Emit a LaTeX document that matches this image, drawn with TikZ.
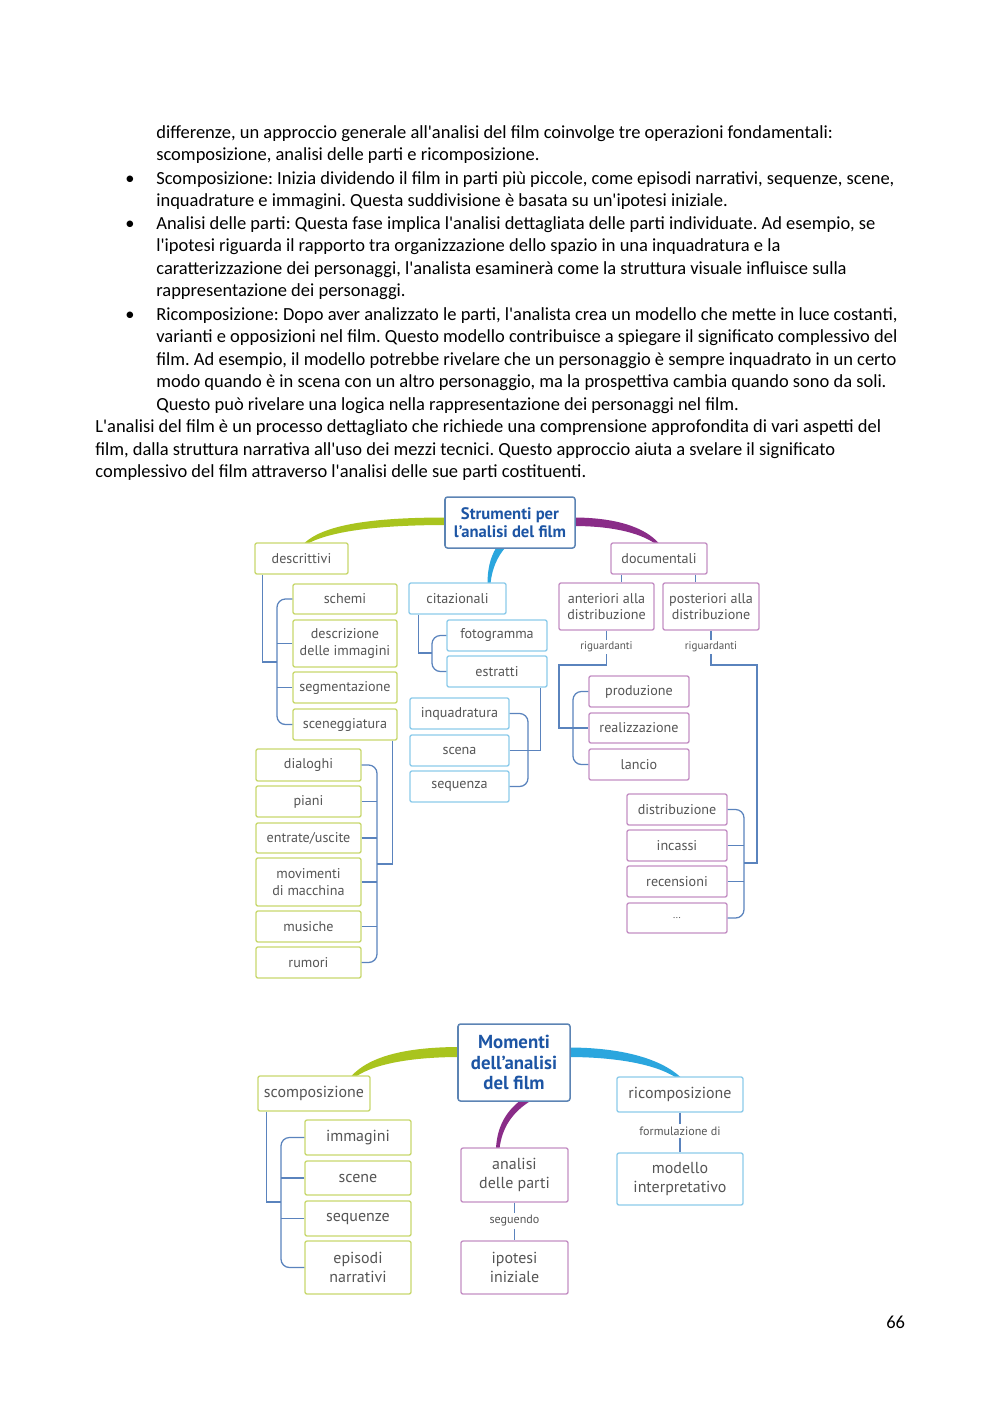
\documentclass[tikz,border=0pt]{standalone}
\usepackage{fontspec}
\newfontfamily\bodyfont{Carlito}
\newfontfamily\dfont{PT Sans}
\usetikzlibrary{calc}
\definecolor{gborder}{HTML}{C8D86E}
\definecolor{bborder}{HTML}{8DCBEA}
\definecolor{pborder}{HTML}{C48FC4}
\definecolor{tborder}{HTML}{5C84B4}
\definecolor{ttext}{HTML}{1D55A4}
\definecolor{conncol}{HTML}{5A83BD}
\definecolor{thg}{HTML}{A9C41E}
\definecolor{thb}{HTML}{2BA6DE}
\definecolor{thp}{HTML}{8A2C88}
\definecolor{boxtext}{HTML}{555555}
\pgfdeclarelayer{bg}
\pgfsetlayers{bg,main}
\begin{document}
\frenchspacing
\begin{tikzpicture}[x=0.595pt,y=-0.595pt,
  bodyline/.style={anchor=base west, inner sep=0pt, font=\bodyfont\frenchspacing\fontsize{11}{13.4}\selectfont},
  box/.style={draw, rounded corners=1.2pt, line width=0.8pt, fill=white, inner sep=0pt, align=center, text=boxtext, font=\dfont\fontsize{8.4}{9.8}\selectfont},
  boxb/.style={box, font=\dfont\fontsize{9.5}{11}\selectfont},
  gbox/.style={box, draw=gborder},
  bbox/.style={box, draw=bborder},
  pbox/.style={box, draw=pborder},
  gboxb/.style={boxb, draw=gborder},
  bboxb/.style={boxb, draw=bborder},
  pboxb/.style={boxb, draw=pborder},
  wh/.style 2 args={minimum width=#1*0.595pt, minimum height=#2*0.595pt},
  titlebox/.style={draw=tborder, line width=0.9pt, rounded corners=1.5pt, fill=white, align=center, text=ttext, inner sep=0pt},
  conn/.style={draw=conncol, line width=0.75pt},
  brk/.style={conn, rounded corners=5pt},
  lbl/.style={font=\dfont\fontsize{6.6}{7}\selectfont, text=boxtext, inner sep=1pt},
  lblb/.style={font=\dfont\fontsize{7.2}{7.6}\selectfont, text=boxtext, inner sep=1.4pt}
]
\useasboundingbox (0,0) rectangle (1000,1414);
\begin{pgfonlayer}{bg}
\fill[white] (0,0) rectangle (1000,1414);
\end{pgfonlayer}

% ---------- body text ----------
\node[bodyline] (t1) at (156,138) {differenze, un approccio generale all'analisi del film coinvolge tre operazioni fondamentali:};
\node[bodyline] (t2) at (156,160) {scomposizione, analisi delle parti e ricomposizione.};
\node[bodyline] (b1) at (125,184) {•};
\node[bodyline] (t3) at (156,184) {Scomposizione: Inizia dividendo il film in parti più piccole, come episodi narrativi, sequenze, scene,};
\node[bodyline] (t4) at (156,206) {inquadrature e immagini. Questa suddivisione è basata su un'ipotesi iniziale.};
\node[bodyline] (b2) at (125,229) {•};
\node[bodyline] (t5) at (156,229) {Analisi delle parti: Questa fase implica l'analisi dettagliata delle parti individuate. Ad esempio, se};
\node[bodyline] (t6) at (156,251) {l'ipotesi riguarda il rapporto tra organizzazione dello spazio in una inquadratura e la};
\node[bodyline] (t7) at (156,274) {caratterizzazione dei personaggi, l'analista esaminerà come la struttura visuale influisce sulla};
\node[bodyline] (t8) at (156,296) {rappresentazione dei personaggi.};
\node[bodyline] (b3) at (125,320) {•};
\node[bodyline] (t9) at (156,320) {Ricomposizione: Dopo aver analizzato le parti, l'analista crea un modello che mette in luce costanti,};
\node[bodyline] (t10) at (156,342) {varianti e opposizioni nel film. Questo modello contribuisce a spiegare il significato complessivo del};
\node[bodyline] (t11) at (156,365) {film. Ad esempio, il modello potrebbe rivelare che un personaggio è sempre inquadrato in un certo};
\node[bodyline] (t12) at (156,387) {modo quando è in scena con un altro personaggio, ma la prospettiva cambia quando sono da soli.};
\node[bodyline] (t13) at (156,410) {Questo può rivelare una logica nella rappresentazione dei personaggi nel film.};
\node[bodyline] (t14) at (95,432) {L'analisi del film è un processo dettagliato che richiede una comprensione approfondita di vari aspetti del};
\node[bodyline] (t15) at (95,455) {film, dalla struttura narrativa all'uso dei mezzi tecnici. Questo approccio aiuta a svelare il significato};
\node[bodyline] (t16) at (95,477) {complessivo del film attraverso l'analisi delle sue parti costituenti.};
\node[bodyline] (pg) at (886,1328) {66};

% ---------- diagram 1 ----------
\node[titlebox, wh={130}{51}, font=\dfont\bfseries\fontsize{9.9}{10.8}\selectfont] (title1) at (510,522.5) {Strumenti per\\l’analisi del film};

\node[gbox, wh={93}{31}] (descr) at (301.5,558.5) {descrittivi};
\node[gbox, wh={104}{30}] (schemi) at (345,599) {schemi};
\node[gbox, wh={104}{47}] (descrizione) at (345,643.5) {descrizione\\delle immagini};
\node[gbox, wh={104}{31}] (segment) at (345,687.5) {segmentazione};
\node[gbox, wh={104}{31}] (scenegg) at (345,724.5) {sceneggiatura};
\node[gbox, wh={105}{32}] (dialoghi) at (308.5,765) {dialoghi};
\node[gbox, wh={105}{31}] (piani) at (308.5,801.5) {piani};
\node[gbox, wh={105}{30}] (entrate) at (308.5,838) {entrate/uscite};
\node[gbox, wh={105}{48}] (movimenti) at (308.5,882) {movimenti\\di macchina};
\node[gbox, wh={105}{31}] (musiche) at (308.5,926.5) {musiche};
\node[gbox, wh={105}{31}] (rumori) at (308.5,962.5) {rumori};

\node[bbox, wh={97}{31}] (citaz) at (457.5,598.5) {citazionali};
\node[bbox, wh={100}{31}] (fotogr) at (497,635.5) {fotogramma};
\node[bbox, wh={100}{31}] (estratti) at (497,671.5) {estratti};
\node[bbox, wh={99}{31}] (inquadr) at (459.5,713.5) {inquadratura};
\node[bbox, wh={99}{31}] (scena) at (459.5,750.5) {scena};
\node[bbox, wh={99}{31}] (sequenza) at (459.5,786.5) {sequenza};

\node[pbox, wh={96}{31}] (docum) at (659,558.5) {documentali};
\node[pbox, wh={95}{47}] (anter) at (606.5,606.5) {anteriori alla\\distribuzione};
\node[pbox, wh={96}{47}] (poster) at (711,606.5) {posteriori alla\\distribuzione};
\node[lbl] (rig1) at (606.5,647) {riguardanti};
\node[lbl] (rig2) at (711,647) {riguardanti};
\node[pbox, wh={100}{31}] (produz) at (639,691.5) {produzione};
\node[pbox, wh={100}{30}] (realizz) at (639,728) {realizzazione};
\node[pbox, wh={100}{31}] (lancio) at (639,764.5) {lancio};
\node[pbox, wh={100}{31}] (distrib) at (677,809.5) {distribuzione};
\node[pbox, wh={100}{31}] (incassi) at (677,845.5) {incassi};
\node[pbox, wh={100}{31}] (recens) at (677,881.5) {recensioni};
\node[pbox, wh={100}{30}] (dots) at (677,918) {\fontsize{6}{7}\selectfont ...};

% thick curves diagram 1
\begin{pgfonlayer}{bg}
\fill[thg] (447,517.5) .. controls (380,517.5) and (325,523) .. (304,543.5)
  -- (308,543.5) .. controls (333,530) and (385,525) .. (447,525) -- cycle;
\fill[thb] (496,548) .. controls (490,558) and (487.5,570) .. (487.5,583.5)
  -- (490.5,583.5) .. controls (492,568) and (498,556) .. (505,548) -- cycle;
\fill[thp] (573,517.5) .. controls (615,517.5) and (645,527) .. (659,543.5)
  -- (655,543.5) .. controls (638,532) and (610,526) .. (573,526) -- cycle;
\end{pgfonlayer}

% connectors diagram 1
\coordinate (j1) at (277,662);
\draw[conn] ($(descr.south west)+(8,0)$) |- (j1);
\draw[brk] (schemi.west) -- (schemi.west -| j1) -- (scenegg.west -| j1) -- (scenegg.west);
\draw[conn] (descrizione.west) -- (descrizione.west -| j1);
\draw[conn] (segment.west) -- (segment.west -| j1);

\coordinate (j2) at (377,864);
\draw[conn] ($(scenegg.south east)+(-5,0)$) |- (j2);
\draw[brk] (dialoghi.east) -- (dialoghi.east -| j2) -- (rumori.east -| j2) -- (rumori.east);
\foreach \n in {piani,entrate,movimenti,musiche} \draw[conn] (\n.east) -- (\n.east -| j2);

\coordinate (j3) at (432,653);
\draw[conn] ($(citaz.south west)+(10,0)$) |- (j3);
\draw[brk] (fotogr.west) -- (fotogr.west -| j3) -- (estratti.west -| j3) -- (estratti.west);

\coordinate (j4) at (528,750.5);
\draw[conn] ($(estratti.south east)+(-7,0)$) |- (j4);
\draw[brk] (inquadr.east) -- (inquadr.east -| j4) -- (sequenza.east -| j4) -- (sequenza.east);
\draw[conn] (scena.east) -- (j4);

\coordinate (d1) at ($(docum.south west)+(11,0)$);
\coordinate (d2) at ($(docum.south west)+(85,0)$);
\draw[conn] (d1) -- (d1 |- anter.north);
\draw[conn] (d2) -- (d2 |- poster.north);

\draw[conn] (anter.south) -- (rig1.north);
\coordinate (k1) at (559,665);
\draw[conn] (rig1.south) |- (k1) |- (realizz.west);
\coordinate (j5) at (573,728);
\draw[brk] (produz.west) -- (produz.west -| j5) -- (lancio.west -| j5) -- (lancio.west);

\draw[conn] (poster.south) -- (rig2.north);
\coordinate (k2) at (757,665);
\coordinate (j6) at (744,863);
\draw[conn] (rig2.south) |- (k2) |- (j6);
\draw[brk] (distrib.east) -- (distrib.east -| j6) -- (dots.east -| j6) -- (dots.east);
\draw[conn] (incassi.east) -- (incassi.east -| j6);
\draw[conn] (recens.east) -- (recens.east -| j6);

% ---------- diagram 2 ----------
\node[titlebox, wh={112}{77}, font=\dfont\bfseries\fontsize{11.2}{12}\selectfont] (title2) at (514,1062.5) {Momenti\\dell’analisi\\del film};
\node[gboxb, wh={112}{35}] (scomp) at (314,1093.5) {scomposizione};
\node[gboxb, wh={106}{35}] (immagini) at (358,1137.5) {immagini};
\node[gboxb, wh={106}{34}] (scene) at (358,1178) {scene};
\node[gboxb, wh={106}{35}] (sequenze) at (358,1218.5) {sequenze};
\node[gboxb, wh={106}{53}] (episodi) at (358,1267.5) {episodi\\narrativi};
\node[pboxb, wh={107}{54}] (analisi) at (514.5,1175) {analisi\\delle parti};
\node[lblb] (seg) at (514.5,1221) {seguendo};
\node[pboxb, wh={107}{53}] (ipotesi) at (514.5,1267.5) {ipotesi\\iniziale};
\node[bboxb, wh={126}{35}] (ricomp) at (680,1094.5) {ricomposizione};
\node[lblb] (form) at (680,1131) {formulazione di};
\node[bboxb, wh={126}{52}] (modello) at (680,1179) {modello\\interpretativo};

\begin{pgfonlayer}{bg}
\fill[thg] (460,1047) .. controls (410,1047) and (370,1055) .. (351,1076.5)
  -- (356,1076.5) .. controls (376,1063) and (415,1057) .. (460,1057) -- cycle;
\fill[thb] (568,1047.5) .. controls (620,1047.5) and (660,1058) .. (681,1077.5)
  -- (676,1077.5) .. controls (655,1064) and (615,1057) .. (568,1057) -- cycle;
\fill[thp] (521,1100) .. controls (505,1112) and (497,1128) .. (496,1148.5)
  -- (499.5,1148.5) .. controls (502,1128) and (512,1112) .. (532,1100) -- cycle;
\end{pgfonlayer}

\coordinate (j7) at (281,1202);
\draw[conn] ($(scomp.south west)+(9,0)$) |- (j7);
\draw[brk] (immagini.west) -- (immagini.west -| j7) -- (episodi.west -| j7) -- (episodi.west);
\draw[conn] (scene.west) -- (scene.west -| j7);
\draw[conn] (sequenze.west) -- (sequenze.west -| j7);
\draw[conn] (analisi.south) -- (seg.north);
\draw[conn] (seg.south) -- (ipotesi.north);
\draw[conn] (ricomp.south) -- (form.north);
\draw[conn] (form.south) -- (modello.north);
\end{tikzpicture}
\end{document}
